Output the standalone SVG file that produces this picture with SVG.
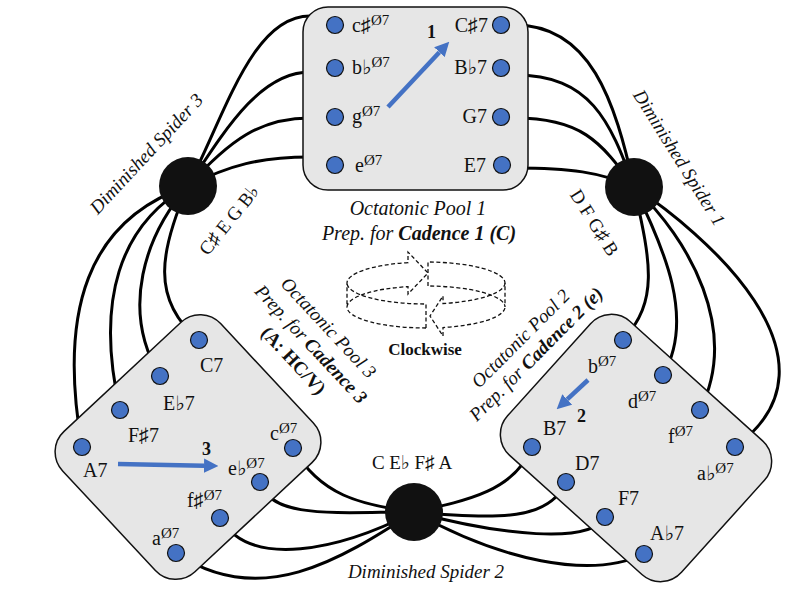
<svg xmlns="http://www.w3.org/2000/svg" width="800" height="600" viewBox="0 0 800 600">
<style>
.t{font-family:"Liberation Serif","DejaVu Serif","DejaVu Sans",serif;font-size:20px;fill:#111}
.s{font-size:15px}
.i{font-style:italic}
.b{font-weight:bold}
.box{fill:#e6e6e6;stroke:#111;stroke-width:1.5}
.dot{fill:#4472c4;stroke:#111;stroke-width:1.2}
.sp{fill:#111}
.con path{fill:none;stroke:#000;stroke-width:3}
.arr{fill:none;stroke:#4472c4;stroke-width:4.5}
.ring{fill:none;stroke:#111;stroke-width:1.3;stroke-dasharray:4 2.5}
</style>
<defs>
<marker id="ah" viewBox="0 0 10 10" refX="0" refY="5" markerWidth="3.2" markerHeight="3.4" orient="auto">
<path d="M0,0 L10,5 L0,10 z" fill="#4472c4"/>
</marker>
</defs>
<rect width="800" height="600" fill="#fff"/>

<g id="connectors" class="con">
<path d="M188,186 C225,115 252,16 310,16"/>
<path d="M188,186 C225,130 260,72 310,72"/>
<path d="M188,186 C230,140 260,118 310,118"/>
<path d="M188,186 C230,165 260,157 310,157"/>
<path d="M188,186 C88,220 58,310 82,447"/>
<path d="M188,186 C120,225 95,300 120,410"/>
<path d="M188,186 C145,235 120,310 160,376"/>
<path d="M188,186 C160,250 150,300 199,340"/>
<path d="M634,187 C615,100 590,25 515,25"/>
<path d="M634,187 C610,120 590,75 515,75"/>
<path d="M634,187 C600,140 580,118 515,118"/>
<path d="M634,187 C600,172 570,168 515,168"/>
<path d="M634,187 C650,260 660,300 623,340"/>
<path d="M634,187 C665,250 695,320 663,375"/>
<path d="M634,187 C690,240 740,330 700,410"/>
<path d="M634,187 C700,230 855,360 735,447"/>
<path d="M414,512 C360,505 320,495 293,448"/>
<path d="M414,512 C340,512 270,520 260,482"/>
<path d="M414,512 C340,550 250,570 220,518"/>
<path d="M414,512 C340,560 260,610 176,553"/>
<path d="M414,512 C470,500 515,490 532,447"/>
<path d="M414,512 C500,520 550,520 566,482"/>
<path d="M414,512 C500,535 590,545 605,517"/>
<path d="M414,512 C500,560 590,580 644,554"/>
</g>

<g id="pool1">
<rect class="box" x="303" y="7" width="225" height="183" rx="25"/>
<circle class="dot" cx="335" cy="25" r="8.5"/>
<circle class="dot" cx="335" cy="68" r="8.5"/>
<circle class="dot" cx="335" cy="117" r="8.5"/>
<circle class="dot" cx="335" cy="165" r="8.5"/>
<circle class="dot" cx="501" cy="25" r="8.5"/>
<circle class="dot" cx="501" cy="68" r="8.5"/>
<circle class="dot" cx="501" cy="117" r="8.5"/>
<circle class="dot" cx="502" cy="165" r="8.5"/>
<text class="t" x="352" y="32">c♯<tspan class="s" dy="-7">Ø7</tspan></text>
<text class="t" x="352" y="74">b♭<tspan class="s" dy="-7">Ø7</tspan></text>
<text class="t" x="352" y="123">g<tspan class="s" dy="-7">Ø7</tspan></text>
<text class="t" x="355" y="172">e<tspan class="s" dy="-7">Ø7</tspan></text>
<text class="t" x="488" y="32" text-anchor="end">C♯7</text>
<text class="t" x="487" y="74" text-anchor="end">B♭7</text>
<text class="t" x="487" y="123" text-anchor="end">G7</text>
<text class="t" x="486" y="172" text-anchor="end">E7</text>
<text class="t b" x="427" y="38" style="font-size:18px">1</text>
<path class="arr" d="M388,107 L439.4,52.2" marker-end="url(#ah)"/>
</g>

<g id="pool3">
<rect class="box" x="-96" y="-108" width="192" height="216" rx="28" transform="translate(188,447) rotate(47)"/>
<circle class="dot" cx="199" cy="340" r="8.5"/>
<circle class="dot" cx="160" cy="376" r="8.5"/>
<circle class="dot" cx="120" cy="410" r="8.5"/>
<circle class="dot" cx="82" cy="447" r="8.5"/>
<circle class="dot" cx="293" cy="448" r="8.5"/>
<circle class="dot" cx="260" cy="482" r="8.5"/>
<circle class="dot" cx="220" cy="518" r="8.5"/>
<circle class="dot" cx="176" cy="553" r="8.5"/>
<text class="t" x="200" y="372">C7</text>
<text class="t" x="163" y="410">E♭7</text>
<text class="t" x="128" y="442">F♯7</text>
<text class="t" x="83" y="477">A7</text>
<text class="t" x="270" y="440">c<tspan class="s" dy="-7">Ø7</tspan></text>
<text class="t" x="228" y="475">e♭<tspan class="s" dy="-7">Ø7</tspan></text>
<text class="t" x="187" y="507">f♯<tspan class="s" dy="-7">Ø7</tspan></text>
<text class="t" x="152" y="545">a<tspan class="s" dy="-7">Ø7</tspan></text>
<text class="t b" x="202" y="455" style="font-size:18px">3</text>
<path class="arr" d="M118,464 L204,465.7" marker-end="url(#ah)"/>
</g>

<g id="pool2">
<rect class="box" x="-117" y="-90" width="234" height="180" rx="28" transform="translate(636,448) rotate(42)"/>
<circle class="dot" cx="623" cy="340" r="8.5"/>
<circle class="dot" cx="663" cy="375" r="8.5"/>
<circle class="dot" cx="700" cy="410" r="8.5"/>
<circle class="dot" cx="735" cy="447" r="8.5"/>
<circle class="dot" cx="532" cy="447" r="8.5"/>
<circle class="dot" cx="566" cy="482" r="8.5"/>
<circle class="dot" cx="605" cy="517" r="8.5"/>
<circle class="dot" cx="644" cy="554" r="8.5"/>
<text class="t" x="588" y="373">b<tspan class="s" dy="-7">Ø7</tspan></text>
<text class="t" x="628" y="408">d<tspan class="s" dy="-7">Ø7</tspan></text>
<text class="t" x="668" y="443">f<tspan class="s" dy="-7">Ø7</tspan></text>
<text class="t" x="697" y="480">a♭<tspan class="s" dy="-7">Ø7</tspan></text>
<text class="t" x="543" y="435">B7</text>
<text class="t" x="575" y="470">D7</text>
<text class="t" x="618" y="505">F7</text>
<text class="t" x="650" y="540">A♭7</text>
<text class="t b" x="577" y="422" style="font-size:18px">2</text>
<path class="arr" d="M588,380 L567.2,399.4" marker-end="url(#ah)"/>
</g>

<g id="spider1">
<circle class="sp" cx="634" cy="187" r="29"/>
<text class="t i" transform="translate(674,161) rotate(58)" text-anchor="middle" style="font-size:19px">Diminished Spider 1</text>
<text class="t" transform="translate(589,226) rotate(58)" text-anchor="middle" style="font-size:19px">D F G♯ B</text>
</g>
<g id="spider2">
<circle class="sp" cx="414" cy="512" r="29"/>
<text class="t" x="412" y="469" text-anchor="middle" style="font-size:19px">C E♭ F♯ A</text>
<text class="t i" x="426" y="578" text-anchor="middle" style="font-size:19px">Diminished Spider 2</text>
</g>
<g id="spider3">
<circle class="sp" cx="188" cy="186" r="29"/>
<text class="t i" transform="translate(151,158) rotate(-47)" text-anchor="middle" style="font-size:19px">Diminished Spider 3</text>
<text class="t" transform="translate(234,224) rotate(-51)" text-anchor="middle" style="font-size:19px">C♯ E G B♭</text>
</g>

<g id="labels">
<text class="t i" x="418" y="215" text-anchor="middle">Octatonic Pool 1</text>
<text class="t i" x="419" y="240" text-anchor="middle">Prep. for <tspan class="b">Cadence 1 (C)</tspan></text>
<g transform="translate(324,332) rotate(47)">
<text class="t i" x="0" y="0" text-anchor="middle" style="font-size:19px">Octatonic Pool 3</text>
<text class="t i" x="0" y="24" text-anchor="middle" style="font-size:19px">Prep. for <tspan class="b">Cadence 3</tspan></text>
<text class="t b" x="0" y="48" text-anchor="middle" style="font-size:19px">(A: HC/V)</text>
</g>
<g transform="translate(525,343) rotate(-45)">
<text class="t i" x="0" y="0" text-anchor="middle" style="font-size:19px">Octatonic Pool 2</text>
<text class="t i" x="0" y="22" text-anchor="middle" style="font-size:19px">Prep. for <tspan class="b">Cadence 2 (e)</tspan></text>
</g>
</g>

<g id="cycle">
<path class="ring" d="M347,307 A79,21 0 0,1 408,286.6 L408,294 L428,273 L408,252 L408,262.6 A79,21 0 0,0 347,283 Z"/>
<path class="ring" d="M428,286 L428,262 A79,21 0 0,1 505,283 L505,307 A79,21 0 0,0 428,286"/>
<path class="ring" d="M505,283 A79,21 0 0,1 443,303.5 L443,296 L430,316 L443,336 L443,327.5 A79,21 0 0,0 505,307"/>
<path class="ring" d="M426,328 L426,304 A79,21 0 0,1 347,283 M426,328 A79,21 0 0,1 347,307"/>
<text class="t b" x="425" y="355" text-anchor="middle" style="font-size:17px">Clockwise</text>
</g>
</svg>
